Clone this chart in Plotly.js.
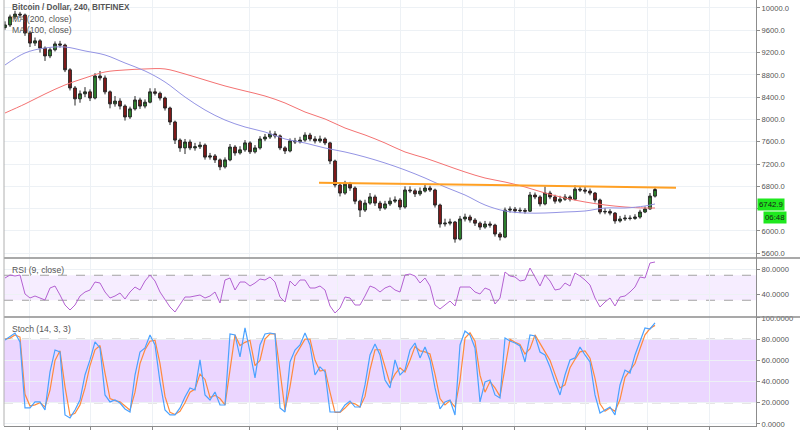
<!DOCTYPE html>
<html><head><meta charset="utf-8">
<script src="https://cdn.plot.ly/plotly-3.0.1.min.js"></script>
<style>html,body{margin:0;padding:0;background:#fff}#chart{width:800px;height:430px}</style>
</head><body><div id="chart"></div>
<script>
// ---- data ----
const firstOpen = 9650;
const closes = [9695,9840,9890,9875,9550,9370,9410,9280,9140,9250,
 9355,9335,8890,8565,8370,8460,8495,8385,8780,8745,
 8495,8280,8330,8240,8045,8190,8350,8240,8310,8495,
 8470,8385,8205,7955,7630,7490,7595,7490,7510,7540,
 7325,7345,7275,7150,7275,7505,7400,7455,7580,7420,
 7490,7650,7685,7740,7705,7490,7435,7615,7600,7630,
 7720,7650,7615,7650,7580,7255,6825,6680,6840,6770,
 6535,6375,6500,6610,6500,6410,6485,6535,6555,6430,
 6735,6720,6665,6715,6770,6735,6465,6125,6140,6160,
 5855,6215,6250,6195,6140,6070,6125,6105,5945,5890,
 6375,6390,6360,6370,6355,6645,6610,6485,6680,6610,
 6535,6570,6610,6570,6750,6735,6715,6680,6555,6340,
 6350,6320,6180,6215,6230,6225,6250,6340,6395,6625,
 6743];
const highs = [9760,9880,9950,9930,9900,9590,9470,9440,9310,9290,
 9400,9410,9360,8920,8600,8520,8580,8540,8830,8870,
 8790,8520,8420,8380,8270,8230,8420,8390,8360,8560,
 8560,8500,8410,8230,7980,7660,7650,7640,7580,7600,
 7570,7400,7380,7300,7320,7560,7540,7520,7630,7610,
 7540,7700,7740,7800,7790,7730,7520,7660,7670,7690,
 7770,7760,7700,7710,7680,7600,7280,6850,6900,6880,
 6800,6560,6560,6680,6650,6540,6540,6600,6620,6590,
 6800,6800,6760,6780,6840,6810,6760,6490,6220,6220,
 6180,6270,6310,6290,6230,6170,6180,6170,6130,5980,
 6420,6440,6430,6420,6410,6700,6690,6640,6800,6720,
 6650,6630,6660,6640,6820,6800,6790,6760,6700,6580,
 6410,6390,6340,6270,6290,6280,6300,6380,6440,6680,
 6790];
const lows = [9610,9660,9800,9820,9500,9300,9320,9200,9050,9100,
 9220,9290,8850,8520,8250,8300,8400,8330,8360,8700,
 8450,8200,8230,8180,7980,8010,8160,8190,8200,8290,
 8430,8340,8160,7900,7560,7420,7380,7450,7440,7470,
 7280,7280,7220,7090,7120,7250,7350,7370,7420,7380,
 7390,7460,7610,7650,7660,7450,7380,7410,7560,7570,
 7600,7610,7570,7580,7540,7200,6780,6620,6650,6720,
 6480,6250,6340,6470,6450,6360,6380,6450,6500,6380,
 6400,6680,6610,6630,6690,6700,6420,6060,6080,6100,
 5790,5830,6170,6150,6090,6020,6040,6060,5900,5830,
 5870,6330,6320,6320,6310,6340,6570,6440,6460,6570,
 6490,6500,6540,6530,6550,6700,6670,6640,6510,6300,
 6300,6280,6130,6150,6180,6190,6200,6220,6320,6380,
 6600];
const maX = [0,4,8,12,16,20,24,28,32,36,40,44,48,52,56,60,64,68,72,76,80,84,88,92,96,100,104,108,112,116,120,124,128,130];
const ma100 = [8977,9193,9282,9300,9229,9157,9013,8870,8672,8403,8170,7990,7865,7775,7650,7578,7488,7417,7327,7219,7094,6950,6789,6645,6466,6358,6322,6322,6340,6358,6412,6412,6448,6484];
const ma200 = [8116,8278,8457,8619,8744,8852,8888,8906,8906,8816,8708,8601,8511,8421,8296,8134,8009,7847,7722,7578,7417,7309,7183,7058,6950,6878,6789,6681,6591,6520,6466,6430,6412,6412];
const trendX = [62.8, 134.2];
const trendY = [6866, 6776];
const rsi = [65.6,70.4,68.8,70.4,40,33.6,36.8,33.6,30.4,49.6,
 52.8,38.4,22.4,14.4,22.4,36.8,43.2,46.4,59.2,57.6,
 43.2,33.6,36.8,41.6,32,43.2,51.2,46.4,60.8,70.4,
 60.8,43.2,30.4,19.2,11.2,22.4,35.2,35.2,36.8,38.4,
 33.6,36.8,43.2,25.6,62.4,65.6,46.4,59.2,59.2,52.8,
 57.6,64,62.4,67.2,59.2,35.2,27.2,60.8,52.8,62.4,
 62.4,49.6,49.6,52.8,46.4,20.8,9.6,17.6,35.2,33.6,
 22.4,22.4,36.8,52.8,49.6,43.2,49.6,52.8,46.4,43.2,
 70.4,72,68.8,57.6,65.6,52.8,22.4,16,22.4,28.8,
 20.8,51.2,51.2,51.2,43.2,40,49.6,46.4,24,33.6,
 75.2,68.8,67.2,60.8,62.4,81.6,67.2,52.8,70.4,60.8,
 46.4,48,57.6,52.8,73.6,68.8,62.4,54.4,33.6,19.2,
 27.2,33.6,20.8,35.2,36.8,43.2,51.2,67.2,65.6,89.6,
 91.2];
const stochK = [79.2,82.1,85.8,77.4,15.1,15.1,20.8,20.8,13.2,49.1,
 69.8,67.9,8.5,5.7,13.2,22.6,46.2,60.4,77.4,71.7,
 27.4,20.8,22.6,19.8,14.2,11.3,46.2,67.9,71.7,84,
 74.5,39.6,13.2,8.5,8.5,15.1,25.5,34,32.1,60.4,
 27.4,22.6,30.2,17.9,17.9,84.9,84,63.2,90.6,67.9,
 43.4,74.5,84.9,85.8,84.9,15.1,11.3,58.5,69.8,74.5,
 85.8,74.5,46.2,53.8,49.1,11.3,11.3,11.3,17.9,21.7,
 16,16,36.8,65.1,75.5,65.1,41.5,34,60.4,46.2,
 50.9,69.8,76.4,62.3,72.6,60.4,34,14.2,20.8,22.6,
 8.5,74.5,87.7,84,71.7,20.8,39.6,41.5,27.4,24.5,
 81.1,78.3,76.4,73.6,58.5,84,83,67.9,65.1,53.8,
 39.6,27.4,46.2,60.4,62.3,72.6,65.1,58.5,27.4,10.4,
 13.2,16,8.5,36.8,50.9,48.1,65.1,77.4,90.6,89.6,
 95.3];
const stochD = [80,81,84,82,28,17,18,20,16,32,
 60,69,35,8,10,18,34,55,70,74,
 48,24,22,21,17,13,30,57,70,78,
 79,57,26,11,9,12,20,30,33,47,
 42,25,27,24,18,52,84,74,77,79,
 55,60,80,85,85,50,13,35,64,72,
 80,80,60,50,51,30,11,11,15,20,
 19,16,26,51,70,70,53,38,47,53,
 49,60,73,69,68,66,47,24,18,22,
 16,41,81,86,78,46,30,40,34,26,
 53,80,77,75,66,71,84,76,67,60,
 47,34,37,53,61,68,69,62,43,19,
 12,15,12,23,44,50,57,71,84,90,
 93];
const gridX = [4.8,17,29.4,48.8,66.4,79,91.4,101.8,116,128.4,140.8];
const priceTicks = [5600,6000,6400,6800,7200,7600,8000,8400,8800,9200,9600,10000];
const hiddenPriceTick = 6400;
const rsiTicks = [40,80];
const rsiBand = [30,70];
const stochTicks = [0,20,40,60,80,100];
const stochBand = [20,80];
const lastPrice = "6742.9";
const countdown = "06:48";

// ---- derived for the library ----
const idx = closes.map((_, i) => i);
const opens = [firstOpen].concat(closes.slice(0, -1));

const L = 4, R = 756, T = 0, B = 426;
const px = x => (x - L) / (R - L);
const py = y => 1 - (y - T) / (B - T);
const dMain = [py(258), 1], dRsi = [py(317), py(258)], dSto = [0, py(317)];

const FONT = 'Liberation Sans, Arial, sans-serif';
const gridC = '#edf1f5';
const axC = '#8c8c8c';
const tickFont = {family: FONT, size: 7.6, color: '#555'};

const traces = [
  {type: 'candlestick', x: idx, open: opens, high: highs, low: lows, close: closes,
   xaxis: 'x', yaxis: 'y', hoverinfo: 'skip', whiskerwidth: 0,
   increasing: {line: {color: '#262626', width: 1}, fillcolor: '#2e8b2e'},
   decreasing: {line: {color: '#262626', width: 1}, fillcolor: '#8b1818'}},
  {type: 'scatter', mode: 'lines', x: maX, y: ma200, xaxis: 'x', yaxis: 'y',
   line: {color: '#f47272', width: 1, shape: 'spline'}, hoverinfo: 'skip'},
  {type: 'scatter', mode: 'lines', x: maX, y: ma100, xaxis: 'x', yaxis: 'y',
   line: {color: '#9494e4', width: 1, shape: 'spline'}, hoverinfo: 'skip'},
  {type: 'scatter', mode: 'lines', x: trendX, y: trendY, xaxis: 'x', yaxis: 'y',
   line: {color: '#ffa024', width: 2}, hoverinfo: 'skip'},
  {type: 'scatter', mode: 'lines', x: idx, y: rsi, xaxis: 'x', yaxis: 'y2',
   line: {color: '#b462d2', width: 1}, hoverinfo: 'skip'},
  {type: 'scatter', mode: 'lines', x: idx, y: stochD, xaxis: 'x', yaxis: 'y3',
   line: {color: '#ff8a3d', width: 1.2}, hoverinfo: 'skip'},
  {type: 'scatter', mode: 'lines', x: idx, y: stochK, xaxis: 'x', yaxis: 'y3',
   line: {color: '#4aa2ff', width: 1.2}, hoverinfo: 'skip'}
];

function yAx(domain, range, vals, text) {
  return {domain: domain, range: range, side: 'right', anchor: 'x',
    tickvals: vals, ticktext: text, tickfont: tickFont,
    ticks: 'outside', ticklen: 3, tickcolor: axC,
    showline: true, linecolor: axC, linewidth: 1,
    showgrid: true, gridcolor: gridC, zeroline: false, fixedrange: true};
}

const shapes = [
  {type: 'rect', xref: 'paper', yref: 'y2', x0: 0, x1: 1, y0: rsiBand[0], y1: rsiBand[1],
   fillcolor: 'rgba(153,51,255,0.09)', line: {width: 0}, layer: 'below'},
  {type: 'rect', xref: 'paper', yref: 'y3', x0: 0, x1: 1, y0: stochBand[0], y1: stochBand[1],
   fillcolor: 'rgba(153,51,255,0.2)', line: {width: 0}, layer: 'below'}
];
rsiBand.forEach(v => shapes.push({type: 'line', xref: 'paper', yref: 'y2', x0: 0, x1: 1, y0: v, y1: v,
  line: {color: '#a3a3a3', width: 1, dash: 'dash'}, layer: 'below'}));
stochBand.forEach(v => shapes.push({type: 'line', xref: 'paper', yref: 'y3', x0: 0, x1: 1, y0: v, y1: v,
  line: {color: '#a3a3a3', width: 1, dash: 'dash'}, layer: 'below'}));
[258, 317].forEach(y => shapes.push({type: 'line', xref: 'paper', yref: 'paper',
  x0: 0, x1: px(800), y0: py(y), y1: py(y), line: {color: axC, width: 1.5}}));
shapes.push({type: 'line', xref: 'paper', yref: 'paper', x0: 0, x1: 0, y0: 0, y1: 1,
  line: {color: '#b0b0b0', width: 1}});

const ann = (x, y, text, extra) => Object.assign({xref: 'paper', yref: 'paper', x: px(x), y: py(y),
  xanchor: 'left', yanchor: 'middle', showarrow: false, text: text,
  font: {family: FONT, size: 8.6, color: '#555'}}, extra || {});

const annotations = [
  ann(10, 7, '<b>Bitcoin / Dollar, 240, BITFINEX</b>', {font: {family: FONT, size: 8.2, color: '#555'}}),
  ann(10, 19, 'MA (200, close)'),
  ann(10, 30, 'MA (100, close)'),
  ann(10, 270, 'RSI (9, close)'),
  ann(10, 329, 'Stoch (14, 3, 3)'),
  ann(757, 204, lastPrice, {bgcolor: '#1ee81e', borderpad: 1, font: {family: FONT, size: 7.8, color: '#1a1a1a'}}),
  ann(763, 217, countdown, {bgcolor: '#1ee81e', borderpad: 1, font: {family: FONT, size: 7.8, color: '#1a1a1a'}})
];

const layout = {
  width: 800, height: 430, margin: {l: L, r: 800 - R, t: T, b: 430 - B},
  paper_bgcolor: '#ffffff', plot_bgcolor: '#ffffff', showlegend: false,
  font: {family: FONT, size: 8, color: '#555'},
  boxgap: 0.45, boxgroupgap: 0, hovermode: false,
  xaxis: {range: [-0.2, 150.2], anchor: 'y3', tickvals: gridX, showticklabels: false,
    ticks: 'outside', ticklen: 4, tickcolor: axC, showgrid: true, gridcolor: gridC,
    showline: true, linecolor: axC, zeroline: false, rangeslider: {visible: false}, fixedrange: true},
  yaxis: yAx(dMain, [5515, 10143], priceTicks,
    priceTicks.map(v => v === hiddenPriceTick ? '' : v.toFixed(1))),
  yaxis2: yAx(dRsi, [3.2, 97.6], rsiTicks, rsiTicks.map(v => v.toFixed(4))),
  yaxis3: yAx(dSto, [-1.9, 100.9], stochTicks, stochTicks.map(v => v.toFixed(4))),
  shapes: shapes, annotations: annotations
};

Plotly.newPlot('chart', traces, layout, {staticPlot: true, displayModeBar: false});
</script></body></html>
